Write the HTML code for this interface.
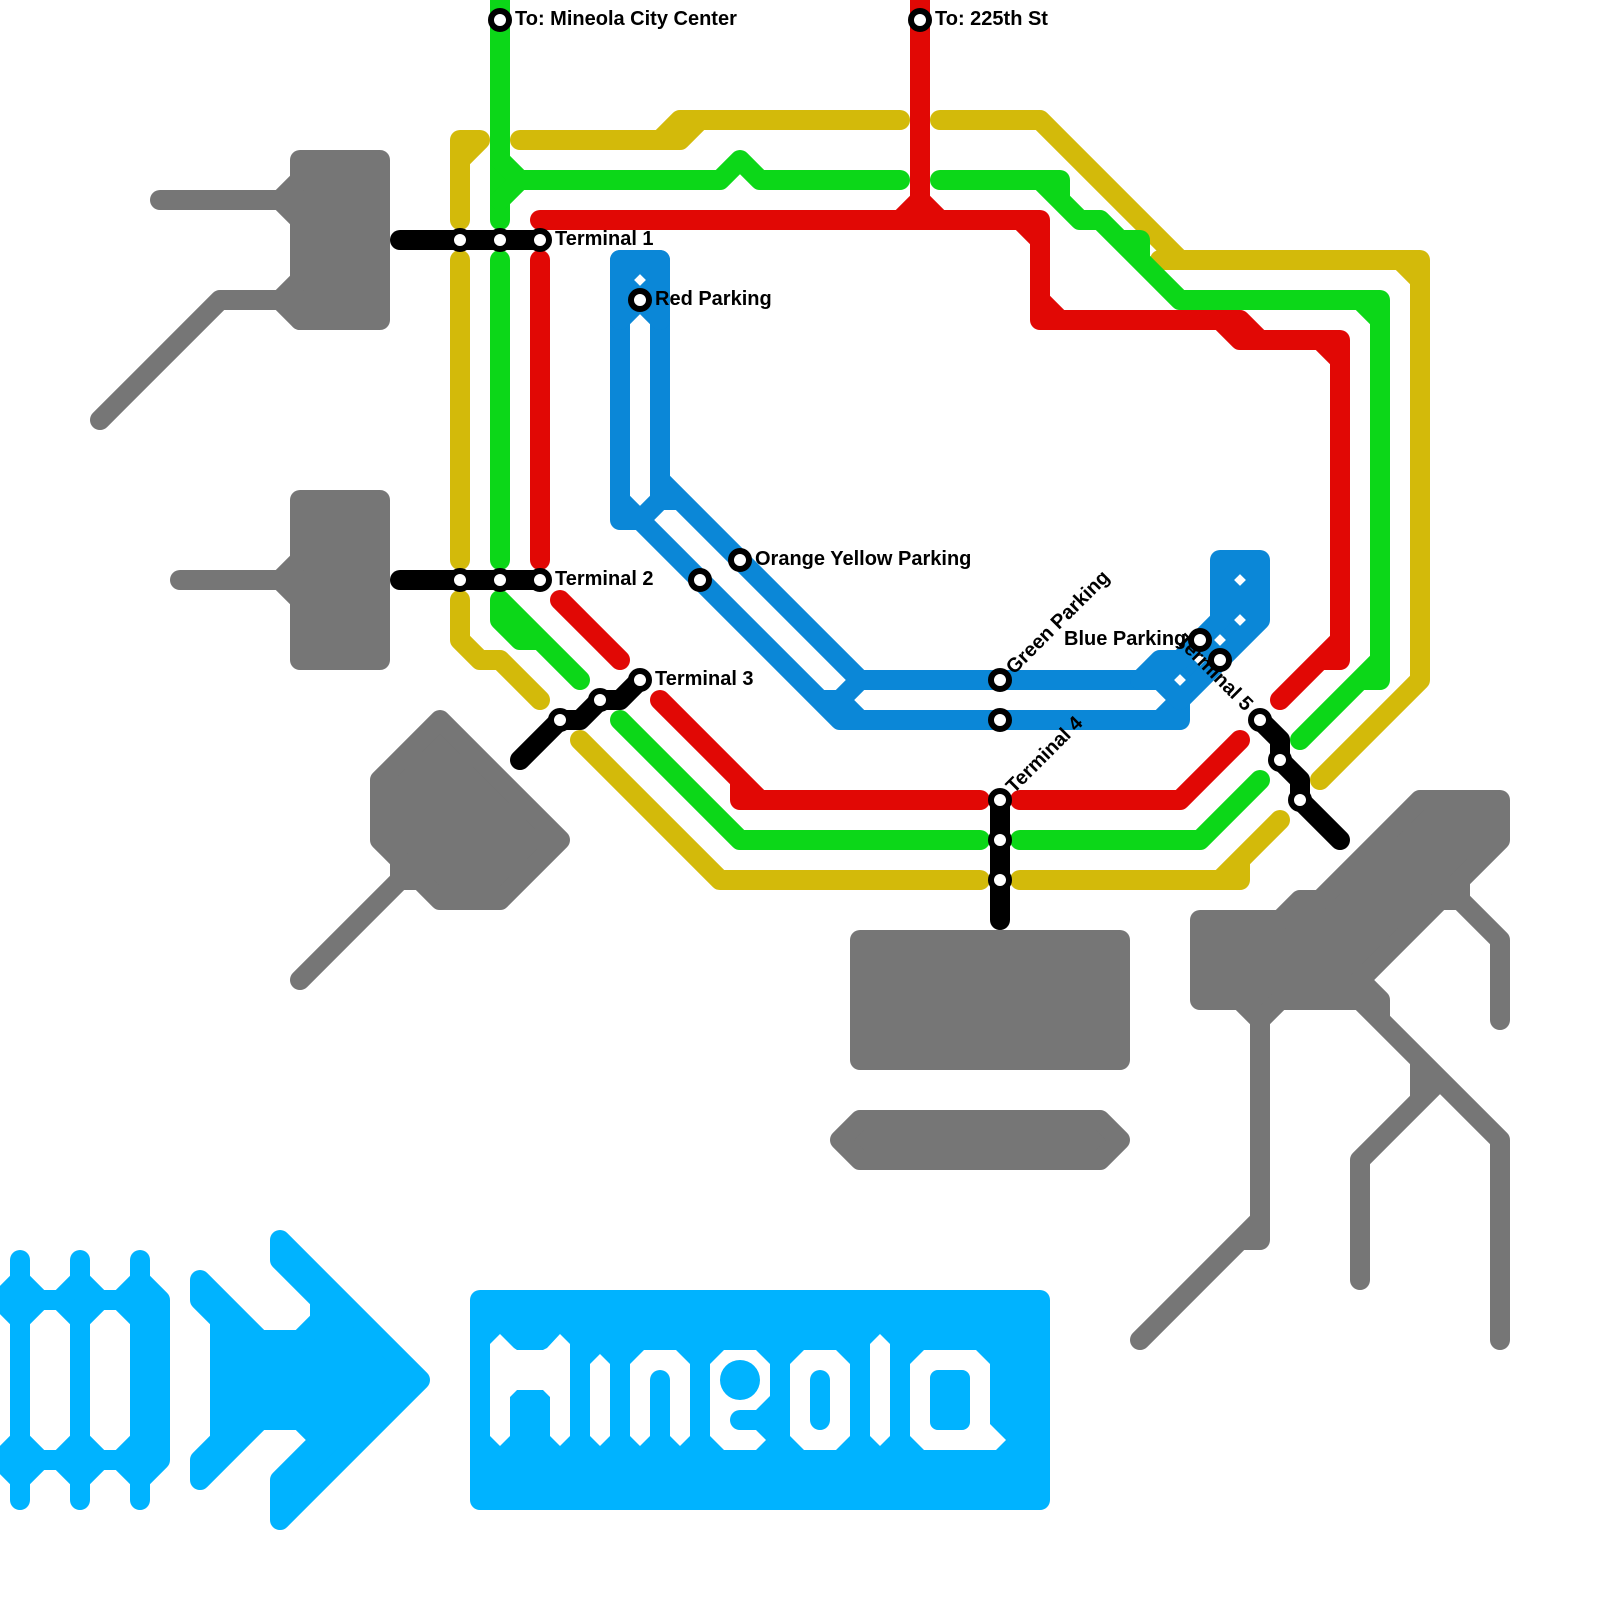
<!DOCTYPE html>
<html><head><meta charset="utf-8"><style>
html,body{margin:0;padding:0;background:#fff}
svg{display:block}
text{font-family:"Liberation Sans",Arial,sans-serif;font-weight:bold;font-size:20px;fill:#000}
.l{fill:none;stroke-width:20;stroke-linecap:round;stroke-linejoin:round}
.s{fill:#fff;stroke:#000;stroke-width:6}
</style></head><body>
<svg xmlns="http://www.w3.org/2000/svg" width="1600" height="1600" viewBox="0 0 1600 1600">
<rect width="1600" height="1600" fill="#fff"/>
<!-- gray -->
<g class="l" stroke="#767676" fill="#767676" style="fill:#767676">
<path d="M300,160H380V320H300Z"/>
<path d="M160,200H280L300,180M280,200L300,220M100,420L220,300H280L300,280M280,300L300,320" fill="none"/>
<path d="M300,500H380V660H300Z"/>
<path d="M180,580H280L300,560M280,580L300,600" fill="none"/>
<path d="M440,720L560,840L500,900H440L420,880H400V860L380,840V780Z"/>
<path d="M300,980L400,880" fill="none"/>
<path d="M860,940H1120V1060H860Z"/>
<path d="M840,1140L860,1120H1100L1120,1140L1100,1160H860Z"/>
<path d="M1200,920H1280L1300,900H1320L1420,800H1500V840L1360,980V1000H1200Z"/>
<path d="M1360,980L1380,1000V1020M1440,900H1460V880M1460,900L1500,940V1020M1240,1000L1260,1020L1280,1000M1140,1340L1260,1220M1260,1020V1240H1240M1360,1000L1500,1140V1340M1360,1280V1160L1440,1080M1420,1100V1060" fill="none"/>
</g>
<!-- light blue -->
<g class="l" stroke="#00b3ff" style="fill:none">
<path d="M20,1260V1500M80,1260V1500M140,1260V1500"/>
<path d="M0,1300L20,1280L40,1300H60L80,1280L100,1300H120L140,1280L160,1300V1460L140,1480L120,1460H100L80,1480L60,1460H40L20,1480L0,1460"/>
<path d="M0,1300L20,1320L40,1300M60,1300L80,1320L100,1300M120,1300L140,1320M0,1460L20,1440L40,1460M60,1460L80,1440L100,1460M120,1460L140,1440"/>
</g>
<path d="M140,1290H160V1470H140Z" fill="#00b3ff"/>
<path d="M280,1240L280,1260L320,1300V1320L300,1340H260L200,1280V1300L220,1320V1440L200,1460V1480L260,1420H300L320,1440L280,1480V1520L420,1380Z" fill="#00b3ff" stroke="#00b3ff" stroke-width="20" stroke-linejoin="round"/>
<rect x="480" y="1300" width="560" height="200" fill="#00b3ff" stroke="#00b3ff" stroke-width="20" stroke-linejoin="round"/>
<g fill="#fff" fill-rule="evenodd">
<path d="M490,1344L500,1334L514,1348L517,1350H543L547,1348L560,1334L570,1344V1436L560,1446L550,1436V1397L543,1390H517L510,1397V1436L500,1446L490,1436Z"/>
<path d="M590,1364L600,1354L610,1364V1436L600,1446L590,1436Z"/>
<path d="M630,1364L644,1350H676L690,1364V1436L680,1446L670,1436V1380A10,10 0 0 0 650,1380V1436L640,1446L630,1436Z"/>
<path d="M710,1364L724,1350H756L770,1364V1396L756,1410H740A10,10 0 0 0 740,1430H756L766,1440L756,1450H724L710,1436ZM760,1380A20,20 0 1 0 720,1380A20,20 0 1 0 760,1380Z"/>
<path d="M790,1364L804,1350H836L850,1364V1436L836,1450H804L790,1436ZM810,1380V1420A10,10 0 0 0 830,1420V1380A10,10 0 0 0 810,1380Z"/>
<path d="M870,1344L880,1334L890,1344V1436L880,1446L870,1436Z"/>
<path d="M910,1364L924,1350H976L990,1364V1424L1006,1440L996,1450H924L910,1436ZM938,1370A8,8 0 0 0 930,1378V1422A8,8 0 0 0 938,1430H962A8,8 0 0 0 970,1422V1378A8,8 0 0 0 962,1370Z"/>
</g>
<!-- gold -->
<g class="l" stroke="#d3ba0a">
<path d="M460,220V140H480L460,160"/>
<path d="M460,260V560"/>
<path d="M460,600V640L480,660H500L540,700"/>
<path d="M520,140H680L700,120M660,140L680,120H900"/>
<path d="M940,120H1040L1180,260M1160,260H1420V680L1320,780M1400,260L1420,280"/>
<path d="M580,740L720,880H980"/>
<path d="M1020,880H1240V860M1220,880L1280,820"/>
</g>
<!-- green -->
<g class="l" stroke="#0cd718">
<path d="M500,0V220"/>
<path d="M500,260V560"/>
<path d="M500,160L520,180H720L740,160L760,180H900M500,200L520,180"/>
<path d="M940,180H1060V200L1080,220H1100L1180,300H1380V680H1360L1300,740M1380,660L1360,680M1360,300L1380,320M1120,240H1140V260M1040,180L1080,220"/>
<path d="M500,600V620L520,640H540M500,600L580,680"/>
<path d="M620,720L740,840H980"/>
<path d="M1020,840H1200L1260,780"/>
</g>
<!-- red -->
<g class="l" stroke="#e10805">
<path d="M920,0V200"/>
<path d="M540,220H1040V320H1240L1260,340H1340V660H1320L1280,700M1020,220L1040,240M1040,300L1060,320M1220,320L1240,340H1260M1320,340L1340,360M1340,640L1320,660M900,220L920,200L940,220"/>
<path d="M540,260V560"/>
<path d="M560,600L620,660"/>
<path d="M660,700L760,800M740,780V800H980"/>
<path d="M1020,800H1180L1240,740"/>
</g>
<!-- blue -->
<g stroke="#0b87d7">
<path class="l" d="M620,260V520H640L840,720H1180V700L1160,720M660,260V500M660,480L860,680H1140M660,500L640,520M660,500H680M620,500L640,520M820,700H840L860,680M840,700L860,720"/>
<path fill="#0b87d7" stroke-width="20" stroke-linejoin="round" d="M620,260H660V320L640,300L620,320Z"/>
<path fill="#0b87d7" stroke-width="20" stroke-linejoin="round" d="M1220,560H1260V620L1180,700L1160,680H1140L1160,660H1180L1220,620Z"/>
</g>
<g fill="#fff">
<path d="M640,274.1L645.9,280L640,285.9L634.1,280Z"/>
<path d="M1240,574.1L1245.9,580L1240,585.9L1234.1,580Z"/>
<path d="M1240,614.1L1245.9,620L1240,625.9L1234.1,620Z"/>
<path d="M1220,634.1L1225.9,640L1220,645.9L1214.1,640Z"/>
<path d="M1200,654.1L1205.9,660L1200,665.9L1194.1,660Z"/>
<path d="M1180,674.1L1185.9,680L1180,685.9L1174.1,680Z"/>
</g>
<!-- black -->
<g class="l" stroke="#000">
<path d="M400,240H540"/>
<path d="M400,580H540"/>
<path d="M520,760L560,720H580L600,700H620L640,680"/>
<path d="M1000,800V920"/>
<path d="M1260,720L1280,740V760L1300,780V800L1340,840"/>
</g>
<!-- stations -->
<g class="s">
<circle cx="500" cy="20" r="9"/><circle cx="920" cy="20" r="9"/>
<circle cx="460" cy="240" r="9"/><circle cx="500" cy="240" r="9"/><circle cx="540" cy="240" r="9"/>
<circle cx="640" cy="300" r="9"/>
<circle cx="460" cy="580" r="9"/><circle cx="500" cy="580" r="9"/><circle cx="540" cy="580" r="9"/>
<circle cx="740" cy="560" r="9"/><circle cx="700" cy="580" r="9"/>
<circle cx="640" cy="680" r="9"/><circle cx="600" cy="700" r="9"/><circle cx="560" cy="720" r="9"/>
<circle cx="1000" cy="680" r="9"/><circle cx="1000" cy="720" r="9"/>
<circle cx="1000" cy="800" r="9"/><circle cx="1000" cy="840" r="9"/><circle cx="1000" cy="880" r="9"/>
<circle cx="1200" cy="640" r="9"/><circle cx="1220" cy="660" r="9"/>
<circle cx="1260" cy="720" r="9"/><circle cx="1280" cy="760" r="9"/><circle cx="1300" cy="800" r="9"/>
</g>
<!-- labels -->
<text x="515" y="25">To: Mineola City Center</text>
<text x="935" y="25">To: 225th St</text>
<text x="555" y="245">Terminal 1</text>
<text x="655" y="305">Red Parking</text>
<text x="555" y="585">Terminal 2</text>
<text x="755" y="565">Orange Yellow Parking</text>
<text x="655" y="685">Terminal 3</text>
<text x="1064" y="645">Blue Parking</text>
<text transform="translate(1014,675) rotate(-45)">Green Parking</text>
<text transform="translate(1014,794) rotate(-45)">Terminal 4</text>
<text text-anchor="end" transform="translate(1245,712) rotate(45)">Terminal 5</text>
</svg>
</body></html>
